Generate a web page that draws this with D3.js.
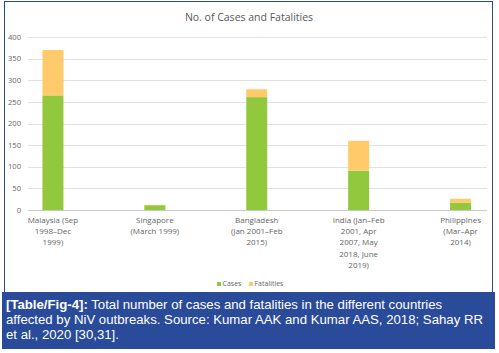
<!DOCTYPE html>
<html>
<head>
<meta charset="utf-8">
<script src="https://cdn.jsdelivr.net/npm/d3@7"></script>
<style>
  body { margin: 0; background: #fff; }
  svg { display: block; }
</style>
</head>
<body>
<div id="chart"></div>
<script>
var width = 499,
    height = 353;

// data
var countries = ["Malaysia", "Singapore", "Bangladesh", "India", "Philippines"];
var countryLabels = [
  ["Malaysia (Sep", "1998\u2013Dec", "1999)"],
  ["Singapore", "(March 1999)"],
  ["Bangladesh", "(Jan 2001\u2013Feb", "2015)"],
  ["India (Jan\u2013Feb", "2001, Apr", "2007, May", "2018, June", "2019)"],
  ["Philippines", "(Mar\u2013Apr", "2014)"]
];
var cases = [265, 11, 261, 91, 17];
var fatalities = [105, 1, 18, 69, 9];
var yTicks = [0, 50, 100, 150, 200, 250, 300, 350, 400];
var seriesNames = ["Cases", "Fatalities"];
var colors = ["#92c83e", "#ffca6a"];

var svg = d3.select("#chart").append("svg")
    .attr("width", width)
    .attr("height", height);

// chart frame
svg.append("rect")
    .attr("x", 4.5).attr("y", 1.5)
    .attr("width", 488).attr("height", 292)
    .attr("fill", "#fff")
    .attr("stroke", "#2b4a86")
    .attr("stroke-width", 1);

var x = d3.scaleBand()
    .domain(countries)
    .range([2, 511.5])
    .paddingInner(0.794)
    .paddingOuter(0.397);

var y = d3.scaleLinear()
    .domain([0, 400])
    .range([210, 37]);

var gridLeft = 28, gridRight = 487;

// gridlines
svg.append("g")
  .selectAll("line")
  .data(yTicks)
  .enter().append("line")
    .attr("x1", gridLeft).attr("x2", gridRight)
    .attr("y1", function(d) { return Math.round(y(d)) + 0.5; })
    .attr("y2", function(d) { return Math.round(y(d)) + 0.5; })
    .attr("stroke", function(d) { return d == 0 ? "#c8c8c8" : "#e2e2e2"; })
    .attr("stroke-width", 1);

// y labels
svg.append("g")
  .selectAll("text")
  .data(yTicks)
  .enter().append("text")
    .attr("x", 21)
    .attr("y", function(d) { return y(d) + 2.7; })
    .attr("text-anchor", "end")
    .attr("font-family", "Open Sans, sans-serif")
    .attr("font-size", "7.6px")
    .attr("fill", "#666")
    .text(function(d) { return d; });

// stacked bars
var rows = countries.map(function(c, i) {
  return { country: c, Cases: cases[i], Fatalities: fatalities[i] };
});
var stacked = d3.stack().keys(seriesNames)(rows);

svg.append("g")
  .selectAll("g")
  .data(stacked)
  .enter().append("g")
    .attr("fill", function(d, i) { return colors[i]; })
  .selectAll("rect")
  .data(function(d) { return d; })
  .enter().append("rect")
    .attr("x", function(d) { return x(d.data.country); })
    .attr("width", x.bandwidth())
    .attr("y", function(d) { return y(d[1]); })
    .attr("height", function(d) { return y(d[0]) - y(d[1]); });

// category labels
var cat = svg.append("g")
  .selectAll("text")
  .data(countries)
  .enter().append("text")
    .attr("x", function(d) { return x(d) + x.bandwidth() / 2; })
    .attr("y", 223)
    .attr("text-anchor", "middle")
    .attr("font-family", "Open Sans, sans-serif")
    .attr("font-size", "8px")
    .attr("fill", "#666");

cat.selectAll("tspan")
  .data(function(d, i) { return countryLabels[i]; })
  .enter().append("tspan")
    .attr("x", function() { return d3.select(this.parentNode).attr("x"); })
    .attr("dy", function(d, i) { return i == 0 ? 0 : 11.2; })
    .text(function(d) { return d; });

// title
svg.append("text")
    .attr("x", 249)
    .attr("y", 21)
    .attr("text-anchor", "middle")
    .attr("font-family", "Open Sans, sans-serif")
    .attr("font-size", "10.5px")
    .attr("fill", "#595959")
    .text("No. of Cases and Fatalities");

// legend
var legendX = [217, 249];
var legend = svg.append("g")
  .selectAll("g")
  .data(seriesNames)
  .enter().append("g")
    .attr("transform", function(d, i) { return "translate(" + legendX[i] + ",282)"; });

legend.append("rect")
    .attr("width", 4).attr("height", 4)
    .attr("fill", function(d, i) { return colors[i]; });

legend.append("text")
    .attr("x", 5.5)
    .attr("y", 4.3)
    .attr("font-family", "Open Sans, sans-serif")
    .attr("font-size", "7px")
    .attr("fill", "#666")
    .text(function(d) { return d; });

// caption box
svg.append("rect")
    .attr("x", 2).attr("y", 292)
    .attr("width", 493).attr("height", 57)
    .attr("fill", "#2a4b9a");

var caption = svg.append("text")
    .attr("font-family", "Liberation Sans, Arial, sans-serif")
    .attr("font-size", "13.2px")
    .attr("fill", "#fff");

var line1 = caption.append("tspan").attr("x", 6).attr("y", 309);
line1.append("tspan").attr("font-weight", "bold").text("[Table/Fig-4]:");
line1.append("tspan").text(" Total number of cases and fatalities in the different countries");
caption.append("tspan").attr("x", 6).attr("y", 324)
    .text("affected by NiV outbreaks. Source: Kumar AAK and Kumar AAS, 2018; Sahay RR");
caption.append("tspan").attr("x", 6).attr("y", 339)
    .text("et al., 2020 [30,31].");
</script>
</body>
</html>
